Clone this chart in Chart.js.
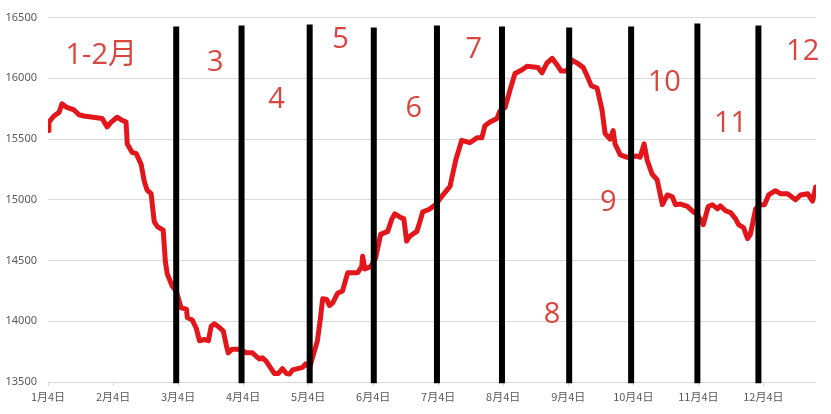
<!DOCTYPE html>
<html>
<head>
<meta charset="utf-8">
<script src="https://cdn.jsdelivr.net/npm/chart.js@4/dist/chart.umd.min.js"></script>
<style>
  html, body { margin: 0; padding: 0; background: #fff; }
  #wrap { width: 831px; height: 414px; }
</style>
</head>
<body>
<div id="wrap"><canvas id="mainChart"></canvas></div>
<script>
// x = trading day index, one tick label every 21 trading days
const tickDays = [0, 21, 42, 63, 84, 105, 126, 147, 168, 189, 210, 231];
const tickLabels = ['1月4日', '2月4日', '3月4日', '4月4日', '5月4日', '6月4日',
  '7月4日', '8月4日', '9月4日', '10月4日', '11月4日', '12月4日'];

const days = [
  0, 0.3, 1.9, 3.6, 4.5, 6.1, 8.4, 10.0, 11.6, 17.5, 19.1, 20.4, 22.3, 23.6, 25.2, 25.6,
  27.2, 28.5, 30.1, 31.1, 32.0, 33.3, 34.3, 35.3, 37.2, 37.9, 38.5, 40.1, 41.4, 43.0,
  44.7, 45.0, 46.6, 47.9, 48.9, 50.5, 51.8, 52.7, 53.7, 55.3, 56.6, 57.6, 58.2, 59.5,
  61.8, 63.4, 64.1, 66.0, 67.3, 68.3, 69.2, 70.5, 71.5, 73.1, 74.4, 75.7, 77.0, 78.0,
  79.0, 80.6, 82.2, 83.2, 84.5, 85.4, 87.0, 88.0, 88.7, 90.0, 90.9, 91.9, 93.5, 95.1,
  96.8, 100.0, 101.3, 101.6, 102.3, 104.2, 105.8, 107.4, 109.7, 111.0, 112.0, 114.2,
  114.9, 115.8, 116.8, 119.1, 120.1, 121.0, 123.0, 125.2, 126.9, 129.8, 131.7, 133.6,
  136.2, 138.5, 140.1, 141.1, 142.7, 145.0, 145.9, 147.6, 149.2, 150.8, 153.1, 154.7,
  158.2, 159.5, 161.1, 162.8, 164.4, 165.7, 167.6, 169.2, 170.9, 172.8, 174.1, 175.4,
  177.3, 178.9, 179.9, 181.5, 182.5, 183.1, 184.8, 187.0, 190.2, 191.2, 192.5, 193.5,
  195.1, 196.7, 198.4, 200.0, 201.6, 202.6, 204.2, 206.5, 208.4, 209.7, 211.6, 213.2,
  214.5, 216.2, 217.1, 218.8, 220.4, 222.0, 223.0, 224.6, 225.9, 226.8, 228.5, 230.1,
  231.4, 232.7, 234.9, 236.5, 238.8, 241.4, 243.0, 245.3, 246.9, 247.9
];
const values = [
  15570, 15640, 15690, 15720, 15790, 15760, 15740, 15700, 15690, 15670, 15600, 15640, 15680, 15660, 15640, 15460,
  15390, 15380, 15290, 15150, 15080, 15050, 14820, 14780, 14750, 14490, 14390, 14290, 14250, 14110,
  14100, 14030, 14010, 13940, 13840, 13850, 13840, 13960, 13980, 13950, 13920, 13800, 13740, 13770,
  13770, 13750, 13740, 13740, 13710, 13690, 13700, 13670, 13630, 13570, 13570, 13610, 13570, 13565,
  13600, 13610, 13620, 13650, 13620, 13700, 13840, 14030, 14185, 14180, 14130, 14150, 14230, 14250,
  14400, 14400, 14450, 14535, 14430, 14450, 14520, 14715, 14740, 14840, 14885, 14850,
  14845, 14660, 14700, 14740, 14820, 14900, 14920, 14960, 15020, 15110, 15330, 15490,
  15470, 15510, 15510, 15610, 15640, 15670, 15730, 15760, 15905, 16040, 16070, 16100,
  16090, 16045, 16125, 16165, 16110, 16060, 16060, 16150, 16125, 16090, 16020, 15940,
  15920, 15740, 15545, 15500, 15570, 15460, 15370, 15350, 15360, 15350, 15460, 15325,
  15210, 15165, 14960, 15040, 15025, 14960, 14965, 14945, 14900, 14880, 14795, 14945,
  14960, 14925, 14950, 14910, 14895, 14845, 14795, 14770, 14680, 14715, 14925, 14960,
  14960, 15040, 15075, 15050, 15050, 15000, 15040, 15050, 14990, 15105
];

// black month separators
const sepDays = [41.4, 62.5, 84.5, 105.2, 125.6, 146.6, 168.3, 188.3, 209.7, 229.4];
const sepTops = [16427, 16435, 16443, 16418, 16435, 16427, 16418, 16427, 16451, 16435];
const sepBottom = 13490;

// red month labels
const noteTexts = ['1-2月', '3', '4', '5', '6', '7', '8', '9', '10', '11', '12'];
const noteDays = [17.2, 54.0, 73.8, 94.5, 118.1, 137.5, 162.8, 180.9, 199.0, 220.4, 243.7];
const noteValues = [16190, 16125, 15823, 16321, 15750, 16239, 14054, 14976, 15962, 15628, 16223];

const notePlugin = {
  id: 'notes',
  afterDatasetsDraw(chart) {
    const ctx = chart.ctx;
    const xs = chart.scales.x, ys = chart.scales.y;
    ctx.save();
    ctx.fillStyle = '#d9453f';
    ctx.font = '29px "Open Sans", "Noto Sans CJK SC", sans-serif';
    ctx.textAlign = 'center';
    ctx.textBaseline = 'middle';
    noteTexts.forEach((t, i) => {
      ctx.fillText(t, xs.getPixelForValue(noteDays[i]), ys.getPixelForValue(noteValues[i]));
    });
    ctx.restore();
  }
};

const datasets = [{
  data: days.map((d, i) => ({x: d, y: values[i]})),
  borderColor: '#e3161c',
  borderWidth: 5,
  pointRadius: 0,
  tension: 0,
  borderJoinStyle: 'round',
  borderCapStyle: 'round',
  order: 2,
}];
sepDays.forEach((d, i) => {
  datasets.push({
    data: [{x: d, y: sepBottom}, {x: d, y: sepTops[i]}],
    borderColor: '#000',
    borderWidth: 6,
    pointRadius: 0,
    clip: false,
    order: 1,
  });
});

const ctx = document.getElementById('mainChart').getContext('2d');
new Chart(ctx, {
  type: 'line',
  data: { datasets },
  options: {
    responsive: true,
    maintainAspectRatio: false,
    animation: false,
    layout: { padding: { top: -3, right: 15, left: 0, bottom: 0 } },
    plugins: { legend: { display: false }, tooltip: { enabled: false } },
    scales: {
      x: {
        type: 'linear',
        min: 0,
        max: 248,
        afterBuildTicks: (scale) => { scale.ticks = tickDays.map(v => ({value: v})); },
        afterFit: (scale) => { scale.height = 32; },
        ticks: {
          autoSkip: false,
          maxRotation: 0,
          padding: 4,
          color: '#595959',
          font: { size: 11, family: '"Noto Sans CJK SC", sans-serif' },
          callback: (v) => tickLabels[tickDays.indexOf(v)],
        },
        grid: { drawOnChartArea: false, tickLength: 4, color: '#d9d9d9' },
        border: { display: false },
      },
      y: {
        min: 13500,
        max: 16500,
        afterFit: (scale) => { scale.width = 48; },
        ticks: {
          stepSize: 500,
          padding: 11,
          color: '#595959',
          font: { size: 11, family: '"Noto Sans", sans-serif' },
          callback: (v) => String(v),
        },
        grid: { color: '#d9d9d9', drawTicks: false },
        border: { display: false },
      },
    },
  },
  plugins: [notePlugin],
});
</script>
</body>
</html>
